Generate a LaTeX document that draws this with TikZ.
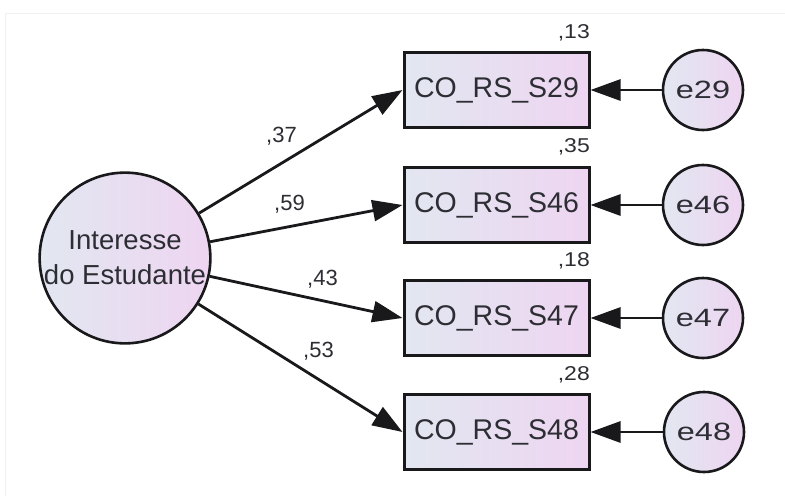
\documentclass[tikz,border=0pt]{standalone}
\usepackage{fontspec}
\setmainfont{Liberation Sans}
\newfontfamily\widefont[FakeStretch=1.3]{Liberation Sans}
\newfontfamily\labfont[FakeStretch=1.15]{Liberation Sans}
\usetikzlibrary{arrows.meta}
\definecolor{fillL}{RGB}{226,231,241}
\definecolor{fillR}{RGB}{238,213,241}
\definecolor{linec}{RGB}{25,25,28}
\definecolor{txt}{RGB}{45,45,52}
\definecolor{framec}{RGB}{240,240,240}
\tikzset{
  obsbox/.style={draw=linec, line width=3pt, left color=fillL, right color=fillR,
    minimum width=185pt, minimum height=75pt, inner sep=0pt, text=txt,
    font=\fontsize{28.5}{34}\selectfont},
  latent/.style={circle, draw=linec, line width=2.6pt, left color=fillL, right color=fillR,
    minimum size=170pt, inner sep=0pt, align=center, text=txt,
    font=\fontsize{27.5}{35}\selectfont},
  errnode/.style={circle, draw=linec, line width=2.6pt, left color=fillL, right color=fillR,
    minimum size=80pt, inner sep=0pt, text=txt,
    font=\widefont\fontsize{25}{28}\selectfont},
  loading/.style={draw=linec, line width=2.8pt, -{Triangle[length=30pt,width=21pt]}},
  coef/.style={text=txt, inner sep=0pt, font=\fontsize{22}{24}\selectfont},
  rsq/.style={text=txt, inner sep=0pt, anchor=base east, font=\labfont\fontsize{20}{22}\selectfont}
}
\begin{document}
\begin{tikzpicture}[x=1pt,y=-1pt]
\useasboundingbox (0,0) rectangle (785,496);
% faint page frame
\draw[framec, line width=1pt] (5,496) -- (5,13) -- (785,13);

% latent factor
\node[latent] (F) at (125,258) {Interesse\\do Estudante};

% observed indicators
\node[obsbox] (s29) at (496.5,90)  {CO\_RS\_S29};
\node[obsbox] (s46) at (496.5,205) {CO\_RS\_S46};
\node[obsbox] (s47) at (496.5,318) {CO\_RS\_S47};
\node[obsbox] (s48) at (496.5,432) {CO\_RS\_S48};

% error terms
\node[errnode] (e29) at (703,90)  {e29};
\node[errnode] (e46) at (703,205) {e46};
\node[errnode] (e47) at (703,318) {e47};
\node[errnode] (e48) at (704,432) {e48};

% squared multiple correlations
\node[rsq] (r29) at (590,38)  {,13};
\node[rsq] (r46) at (590,152) {,35};
\node[rsq] (r47) at (590,266) {,18};
\node[rsq] (r48) at (590,380) {,28};

% factor loadings
\draw[loading] (F) -- (s29.west);
\draw[loading] (F) -- (s46.west);
\draw[loading] (F) -- (s47.west);
\draw[loading] (F) -- (s48.west);
\node[coef, anchor=base west] (l29) at (266,142) {,37};
\node[coef, anchor=base west] (l46) at (274,210) {,59};
\node[coef, anchor=base west] (l47) at (307,285) {,43};
\node[coef, anchor=base west] (l48) at (303,357) {,53};

% error paths
\draw[loading] (e29) -- (s29.east);
\draw[loading] (e46) -- (s46.east);
\draw[loading] (e47) -- (s47.east);
\draw[loading] (e48) -- (s48.east);
\end{tikzpicture}
\end{document}
